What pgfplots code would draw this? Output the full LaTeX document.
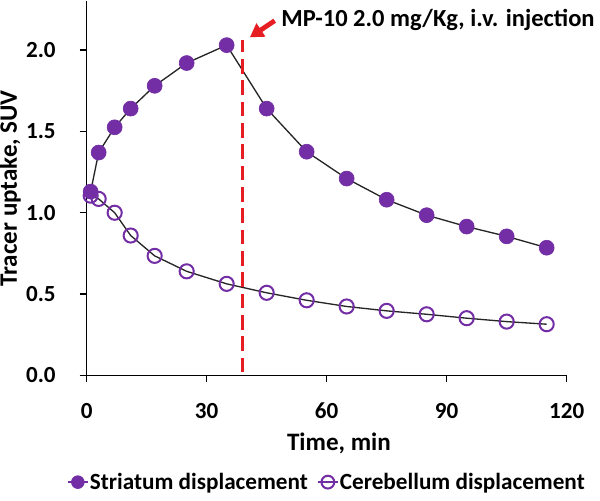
\documentclass[border=0pt]{standalone}
\usepackage{pgfplots}
\pgfplotsset{compat=1.18}
\usepackage{fontspec}
\setmainfont{Carlito}
\usetikzlibrary{arrows.meta}
\definecolor{mypurple}{RGB}{115,45,165}
\definecolor{myred}{RGB}{230,30,35}
\newcommand{\tickf}{\fontsize{17.3}{20}\selectfont\bfseries}
\newcommand{\labf}{\fontsize{18.8}{22}\selectfont\bfseries}
\newcommand{\annf}{\fontsize{18.4}{22}\selectfont\bfseries}
\newcommand{\legf}{\fontsize{17.4}{20}\selectfont\bfseries}
\begin{document}
\begin{tikzpicture}
\begin{axis}[
  scale only axis, width=360pt, height=280.7pt,
  xmin=0, xmax=120, ymin=0, ymax=2.3,
  axis x line*=bottom, axis y line*=left,
  xtick={0,30,60,90,120}, ytick={0,0.5,1.0,1.5,2.0},
  tick align=outside, major tick length=5.25pt,
  tick style={black, line width=1pt},
  axis line style={black, line width=1pt},
  /pgf/number format/assume math mode=true,
  yticklabel style={/pgf/number format/fixed, /pgf/number format/fixed zerofill, /pgf/number format/precision=1},
  ticklabel style={font=\tickf},
  xticklabel style={anchor=base, inner sep=0pt, yshift=-26.8pt},
  yticklabel style={anchor=east, inner sep=0pt, xshift=-17.8pt},
  xlabel={Time, min}, ylabel={Tracer uptake, SUV},
  label style={font=\labf, inner sep=0pt},
  xlabel style={at={(axis description cs:0,0)}, anchor=base, xshift=189.2pt, yshift=-56.6pt},
  ylabel style={at={(axis description cs:0,0.5)}, anchor=center, yshift=57.5pt},
  clip=false,
  reverse legend,
  legend columns=2,
  legend cell align=left,
  legend style={at={(axis description cs:0.5,0)}, anchor=center, yshift=-80pt,
    draw=none, fill=none, font=\legf, inner sep=0pt, nodes={inner sep=1pt},
    /tikz/every even column/.append style={column sep=6pt}},
  legend image code/.code={\draw[mark repeat=2,mark phase=2,#1,draw=mypurple,line width=1pt,mark size=4.8pt] plot coordinates {(0pt,0pt)(7.5pt,0pt)(15pt,0pt)};},
]
\addplot[black!85, line width=1pt, mark=o, mark size=5.3pt,
  mark options={draw=mypurple, line width=1.5pt, fill=none}]
  coordinates {(1,1.105) (3,1.085) (7,1.00) (11,0.86) (17,0.735) (25,0.64) (35,0.563)
  (45,0.508) (55,0.462) (65,0.424) (75,0.397) (85,0.376) (95,0.352) (105,0.331) (115,0.315)};
\addlegendentry{Cerebellum displacement}
\addplot[black!85, line width=1pt, mark=*, mark size=5.6pt,
  mark options={draw=mypurple, fill=mypurple, line width=0.5pt}]
  coordinates {(1,1.13) (3,1.37) (7,1.525) (11,1.64) (17,1.78) (25,1.92) (35,2.03)
  (45,1.64) (55,1.375) (65,1.21) (75,1.08) (85,0.985) (95,0.915) (105,0.855) (115,0.785)};
\addlegendentry{Striatum displacement}
\addplot[myred, line width=2.2pt, dash pattern=on 11pt off 5pt, forget plot]
  coordinates {(38.9,0.02) (38.9,2.06)};
\draw[myred, line width=3.6pt, -{Triangle[length=10pt,width=11.5pt]}]
  (axis cs:47.0,2.180) -- (axis cs:40.8,2.078);
\node[anchor=base west, inner sep=0pt, font=\annf] at (axis cs:48.6,2.143)
  {MP-10 2.0 mg/Kg, i.v. injection};
\end{axis}
\pgfresetboundingbox
\path[use as bounding box] ([shift={(-65pt,-93.4pt)}]current axis.south west)
  rectangle ([shift={(25pt,0.9pt)}]current axis.north east);
\end{tikzpicture}
\end{document}
